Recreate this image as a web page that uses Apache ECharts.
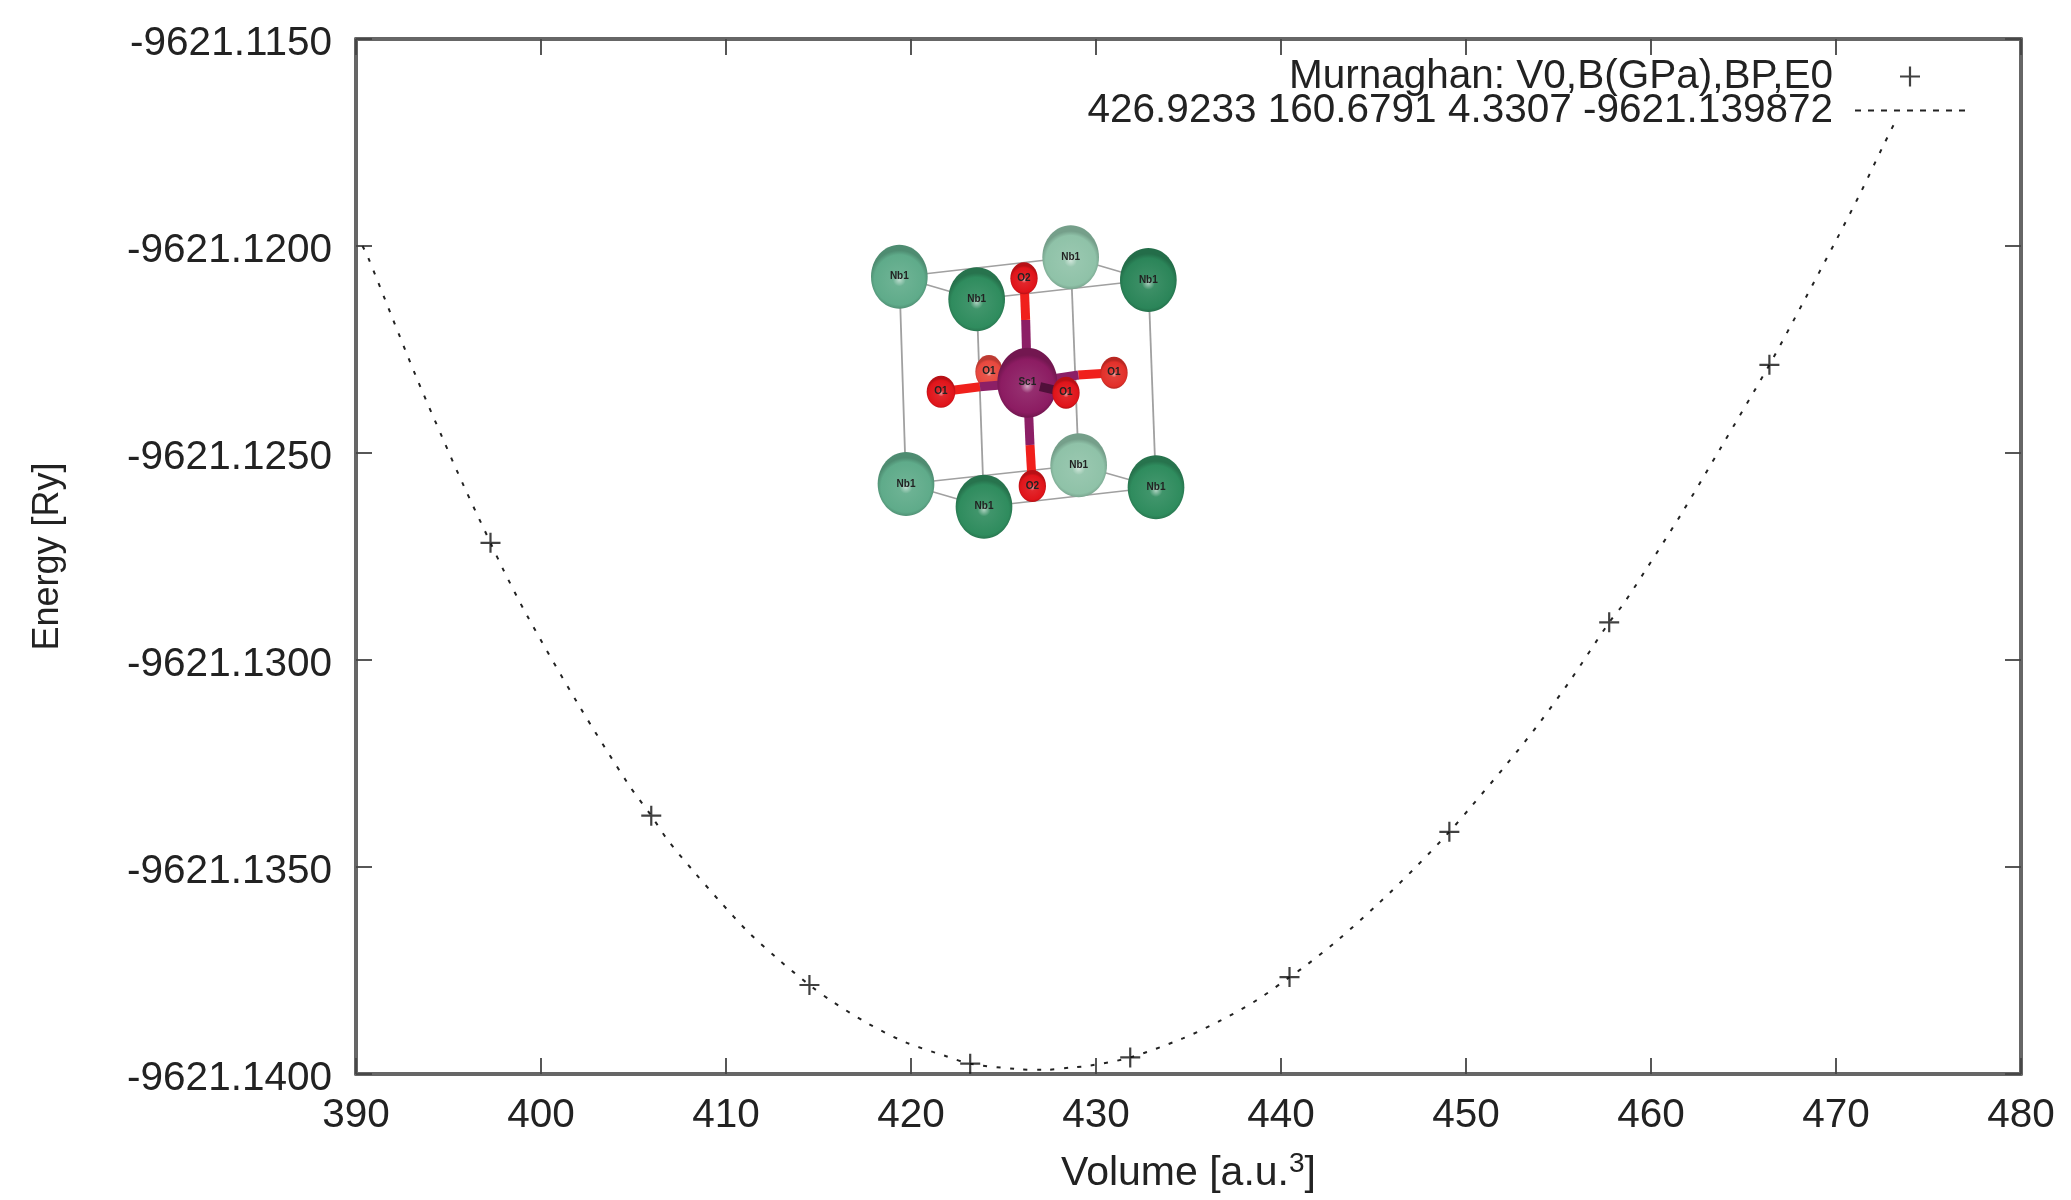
<!DOCTYPE html>
<html><head><meta charset="utf-8">
<style>html,body{margin:0;padding:0;background:#fff}#c{width:2071px;height:1200px}</style>
<script src="https://cdn.jsdelivr.net/npm/echarts@6/dist/echarts.min.js"></script>
</head><body><div id="c"></div>
<script>
const xTicksMin = 390, xTicksMax = 480, xStep = 10;
const yMin = -9621.14, yMax = -9621.115, yStep = 0.005;
const legendMarks = 'Murnaghan: V0,B(GPa),BP,E0';
const legendCurve = '426.9233 160.6791 4.3307 -9621.139872';
const markVolume = [397.27,405.96,414.51,423.2,431.85,440.46,449.1,457.74,466.4];
const markEnergy = [-9621.12717,-9621.13376,-9621.13785,-9621.13975,-9621.1396,-9621.13766,-9621.13415,-9621.12909,-9621.12287];
const curveVolume = [390.35,390.64,391.96,393.29,394.68,395.83,397.27,397.94,399.25,402,404.75,405.96,406.85,408.24,409.69,411.18,412.8,414.51,415.72,417.67,419.69,421.9,423.2,425.69,427.2,428.75,429.65,431.85,434.69,436.77,438.75,440.46,441.23,442.98,445.18,447.27,449.1,450.28,452.12,453.92,455.61,457.74,458.47,459.65,461.6,463.79,466.4,468.35,470.01,471.31,472.53,473.2];
const curveEnergy = [-9621.12,-9621.12026,-9621.12173,-9621.1232,-9621.12464,-9621.1258,-9621.12717,-9621.1278,-9621.12893,-9621.13106,-9621.13302,-9621.13376,-9621.13435,-9621.1351,-9621.13584,-9621.13656,-9621.13722,-9621.13785,-9621.13824,-9621.13878,-9621.13923,-9621.13957,-9621.13975,-9621.13988,-9621.1399,-9621.13984,-9621.1398,-9621.1396,-9621.13914,-9621.1387,-9621.1382,-9621.13766,-9621.13742,-9621.1368,-9621.13592,-9621.13501,-9621.13415,-9621.13354,-9621.13256,-9621.13155,-9621.13051,-9621.12909,-9621.12867,-9621.12787,-9621.1265,-9621.12486,-9621.12287,-9621.12126,-9621.11986,-9621.11873,-9621.1176,-9621.117];

/* Crystal-structure inset, in its own hidden 1140x1080 scale */
const Nb={l:'Nb1',rx:85,ry:96}, Sc={l:'Sc1',rx:90,ry:105};
const grey='#a0a0a0', red='#f0201c', mag='#8c1f66';
const insetParts=[
 ['b',178,230,410,298,grey,1.5],['b',410,298,925,240,grey,1.5],['b',925,240,692,172,grey,1.5],['b',692,172,178,230,grey,1.5],
 ['b',198,852,432,920,grey,1.5],['b',432,920,948,862,grey,1.5],['b',948,862,716,796,grey,1.5],['b',716,796,198,852,grey,1.5],
 ['b',178,230,198,852,grey,1.8],['b',410,298,432,920,grey,1.8],['b',692,172,716,796,grey,1.8],['b',925,240,948,862,grey,1.8],
 ['a',692,172,Nb,'#8fc2a8'],['a',716,796,Nb,'#8fc2a8'],
 ['a',178,230,Nb,'#5fab8a'],['a',198,852,Nb,'#5fab8a'],
 ['a',447,515,{l:'O1',rx:41,ry:50},'#e8483e'],
 ['b',552,235,557,360,red,9],['b',557,360,562,548,mag,9],
 ['b',577,858,570,735,red,9],['b',570,735,562,548,mag,9],
 ['b',303,575,420,560,red,9],['b',420,560,562,548,mag,9],
 ['b',822,518,715,525,red,9],['b',715,525,562,548,mag,9],
 ['a',822,518,{l:'O1',rx:41,ry:48},'#e2302a'],
 ['a',552,235,{l:'O2',rx:41,ry:48},'#e0141a'],['a',577,858,{l:'O2',rx:41,ry:48},'#e0141a'],
 ['a',303,575,{l:'O1',rx:43,ry:48},'#e0141a'],
 ['a',562,548,Sc,'#8c1c62'],
 ['b',678,578,600,560,'#50103a',9],
 ['a',678,578,{l:'O1',rx:41,ry:48},'#e0141a'],
 ['a',410,298,Nb,'#2f8c5e'],['a',432,920,Nb,'#2f8c5e'],['a',925,240,Nb,'#2b8559'],['a',948,862,Nb,'#2f8c5e']
];

function shade(hex,f){const n=parseInt(hex.slice(1),16);const c=[n>>16,(n>>8)&255,n&255].map(v=>Math.round(f<0?v*(1+f):v+(255-v)*f));return 'rgb('+c.join(',')+')';}

function renderInset(params,api){
  const d=insetParts[params.dataIndex];
  if(d[0]==='b'){
    const p=api.coord([d[1],d[2]]),q=api.coord([d[3],d[4]]);
    return {type:'line',shape:{x1:p[0],y1:p[1],x2:q[0],y2:q[1]},style:{stroke:d[5],lineWidth:d[6],fill:null}};
  }
  const c=api.coord([d[1],d[2]]),s=api.size([d[3].rx,d[3].ry]);
  const kids=[{type:'ellipse',shape:{cx:c[0],cy:c[1],rx:s[0],ry:s[1]},style:{fill:{type:'radial',x:0.5,y:0.55,r:0.52,colorStops:[
    {offset:0,color:shade(d[4],0.6)},{offset:0.22,color:shade(d[4],0.08)},{offset:0.85,color:d[4]},{offset:1,color:shade(d[4],-0.18)}]}}}];
  kids.push({type:'text',style:{x:c[0],y:c[1],text:d[3].l,align:'center',verticalAlign:'middle',fill:'#222',font:'bold 10px "Liberation Sans"'}});
  return {type:'group',children:kids};
}

const fontF='"Liberation Sans", Arial, sans-serif';
const frame={lineStyle:{color:'#666',width:4}};
const tick={show:true,inside:true,length:16,lineStyle:{color:'#444',width:1.8}};
const plus='path://M0 8.9H20V11.1H0ZM8.9 0H11.1V20H8.9Z';
/* legend key for the curve: nine short dashes in a 110x20 box (zero-area ends fix the bounds) */
let dashKey='path://M0 0H0.01V0.01ZM110 20H109.99V19.99Z';
for(let i=0;i<9;i++){const a=(i*13.0).toFixed(1),b=(i*13.0+6).toFixed(1);dashKey+='M'+a+' 9H'+b+'V11H'+a+'Z';}

const option={
  animation:false,backgroundColor:'#fff',
  textStyle:{fontFamily:fontF},
  grid:[{left:356,top:39,width:1665,height:1035},{left:840,top:200,width:380,height:360}],
  legend:{
    right:106,top:56,padding:0,orient:'vertical',align:'right',itemWidth:110,itemHeight:20,itemGap:-7,
    data:[legendMarks,{name:legendCurve,icon:dashKey,itemStyle:{color:'#222'}}],selectedMode:false,
    textStyle:{fontFamily:fontF,fontSize:40.5,color:'#222',padding:[0,17,0,0]}
  },
  xAxis:[
    {type:'value',min:xTicksMin,max:xTicksMax,interval:xStep,position:'bottom',gridIndex:0,splitLine:{show:false},
      axisLine:{show:true,onZero:false,...frame},axisTick:tick,
      axisLabel:{fontSize:40.5,color:'#222',margin:21,fontFamily:fontF,showMinLabel:true,showMaxLabel:true,hideOverlap:false},
      name:'Volume [a.u.{s|3}]',nameLocation:'middle',nameGap:76,
      nameTextStyle:{fontSize:41,color:'#222',fontFamily:fontF,rich:{s:{fontSize:28,color:'#222',fontFamily:fontF,verticalAlign:'top',padding:[0,0,20,0]}}}},
    {type:'value',min:xTicksMin,max:xTicksMax,interval:xStep,position:'top',gridIndex:0,splitLine:{show:false},
      axisLine:{show:true,onZero:false,...frame},axisTick:tick,axisLabel:{show:false}},
    {type:'value',min:0,max:1140,gridIndex:1,show:false}
  ],
  yAxis:[
    {type:'value',min:yMin,max:yMax,interval:yStep,position:'left',gridIndex:0,splitLine:{show:false},scale:true,
      axisLine:{show:true,onZero:false,...frame},axisTick:tick,
      axisLabel:{color:'#222',margin:24,fontFamily:fontF,formatter:v=>'{t|'+v.toFixed(4)+'}',showMinLabel:true,showMaxLabel:true,
        rich:{t:{fontSize:40.5,color:'#222',fontFamily:fontF,padding:[9,0,0,0]}}},
      name:'Energy [Ry]',nameLocation:'middle',nameGap:290,nameRotate:90,
      nameTextStyle:{fontSize:36,color:'#222',fontFamily:fontF}},
    {type:'value',min:yMin,max:yMax,interval:yStep,position:'right',gridIndex:0,splitLine:{show:false},scale:true,
      axisLine:{show:true,onZero:false,...frame},axisTick:tick,axisLabel:{show:false}},
    {type:'value',min:0,max:1080,inverse:true,gridIndex:1,show:false}
  ],
  series:[
    {type:'custom',name:'inset',xAxisIndex:2,yAxisIndex:2,coordinateSystem:'cartesian2d',clip:false,silent:true,z:1,
      renderItem:renderInset,data:insetParts.map((p,i)=>[i]),encode:{x:-1,y:-1}},
    {type:'line',name:legendCurve,xAxisIndex:0,yAxisIndex:0,data:curveVolume.map((v,i)=>[v,curveEnergy[i]]),
      showSymbol:false,smooth:0.3,clip:false,z:3,
      itemStyle:{color:'#222'},lineStyle:{color:'#222',width:2,type:[4,9.5]}},
    {type:'scatter',name:legendMarks,xAxisIndex:0,yAxisIndex:0,data:markVolume.map((v,i)=>[v,markEnergy[i]]),
      symbol:plus,symbolSize:20,symbolKeepAspect:true,itemStyle:{color:'#111'},z:4}
  ]
};
const chart=echarts.init(document.getElementById('c'),null,{renderer:'canvas'});
chart.setOption(option);
</script></body></html>
